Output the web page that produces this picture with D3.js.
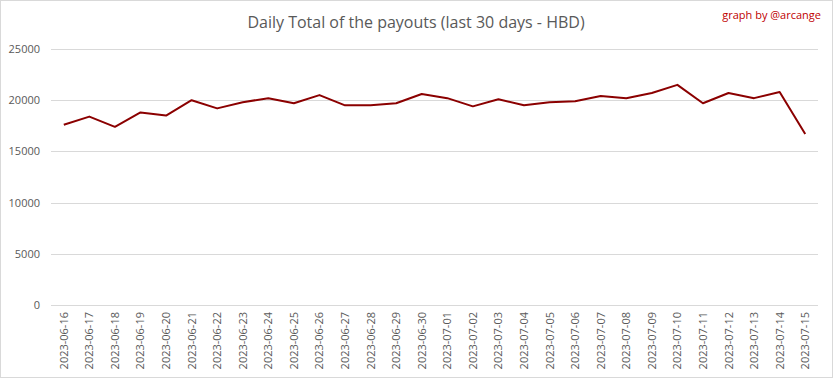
<!DOCTYPE html>
<html><head><meta charset="utf-8">
<script src="https://cdn.jsdelivr.net/npm/d3@7/dist/d3.min.js"></script>
<style>body{margin:0;background:#fff}svg{display:block}</style>
</head><body>
<svg id="c" width="833" height="379"></svg>
<script>
const dates = ["2023-06-16","2023-06-17","2023-06-18","2023-06-19","2023-06-20","2023-06-21","2023-06-22","2023-06-23","2023-06-24","2023-06-25","2023-06-26","2023-06-27","2023-06-28","2023-06-29","2023-06-30","2023-07-01","2023-07-02","2023-07-03","2023-07-04","2023-07-05","2023-07-06","2023-07-07","2023-07-08","2023-07-09","2023-07-10","2023-07-11","2023-07-12","2023-07-13","2023-07-14","2023-07-15"];
const payouts = [17600,18400,17400,18800,18500,20000,19200,19800,20200,19700,20500,19500,19500,19700,20600,20200,19400,20100,19500,19800,19900,20400,20200,20700,21500,19700,20700,20200,20800,16700];
const yTicks = [0,5000,10000,15000,20000,25000];
const title = "Daily Total of the payouts (last 30 days - HBD)";
const credit = "graph by @arcange";

const svg = d3.select("#c");
const font = "'Open Sans', 'Liberation Sans', sans-serif";
svg.append("rect").attr("x",0.5).attr("y",0.5).attr("width",832).attr("height",377)
  .attr("fill","#fff").attr("stroke","#d9d9d9");

const L=51, R=818, T=49, B=305;
const x = d3.scaleBand().domain(dates).range([L,R]);
const y = d3.scaleLinear().domain([0,25000]).range([B,T]);

svg.append("g").selectAll("line").data(yTicks).join("line")
  .attr("x1",L).attr("x2",R).attr("y1",d=>Math.round(y(d))+0.5).attr("y2",d=>Math.round(y(d))+0.5)
  .attr("stroke","#d9d9d9").attr("stroke-width",1);

svg.append("g").selectAll("text").data(yTicks).join("text")
  .attr("x",40).attr("y",d=>y(d)+4).attr("text-anchor","end")
  .attr("font-family",font).attr("font-size",11).attr("fill","#595959").text(d=>d);

svg.append("g").selectAll("text").data(dates).join("text")
  .attr("transform",d=>`translate(${x(d)+x.bandwidth()/2+4},312) rotate(-90)`)
  .attr("text-anchor","end").attr("font-family",font).attr("font-size",11).attr("fill","#595959").text(d=>d);

const line = d3.line().x((d,i)=>x(dates[i])+x.bandwidth()/2).y(d=>y(d));
svg.append("path").datum(payouts).attr("d",line).attr("fill","none")
  .attr("stroke","#8b0000").attr("stroke-width",2).attr("stroke-linejoin","round");

svg.append("text").attr("x",416).attr("y",28).attr("text-anchor","middle")
  .attr("font-family",font).attr("font-size",16).attr("fill","#595959").text(title);
svg.append("text").attr("x",821).attr("y",19).attr("text-anchor","end")
  .attr("font-family",font).attr("font-size",11).attr("fill","#c00000").text(credit);
</script>
</body></html>
